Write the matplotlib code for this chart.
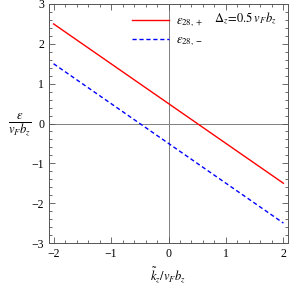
import matplotlib.pyplot as plt
import numpy as np
from matplotlib.ticker import MultipleLocator

plt.rcParams['font.family'] = 'Liberation Serif'
plt.rcParams['mathtext.fontset'] = 'stix'

# data: two energy branches, straight lines
k = np.array([-2.0, 2.0])
eps_plus = np.array([2.5, -1.5])
eps_minus = np.array([1.5, -2.5])
xticks = [-2, -1, 0, 1, 2]
yticks = [-3, -2, -1, 0, 1, 2, 3]

fig = plt.figure(figsize=(2.91, 2.85), dpi=100)
ax = fig.add_axes([49/291, 1-243/285, 239/291, 239/285])

ax.axhline(0, color='gray', lw=0.7, zorder=1)
ax.axvline(0, color='gray', lw=0.7, zorder=1)
ax.plot(k, eps_plus, color='red', lw=1.0, label=r'$\varepsilon_{28,+}$')
ax.plot(k, eps_minus, color='blue', lw=1.0, ls=(0, (3, 2)), label=r'$\varepsilon_{28,-}$')

ax.set_xlim(-2.08, 2.08)
ax.set_ylim(-3, 3)
ax.set_xticks(xticks)
ax.set_yticks(yticks)
ax.set_xticklabels([str(t).replace('-', '\u2212') for t in xticks])
ax.set_yticklabels([str(t).replace('-', '\u2212') for t in yticks])
ax.xaxis.set_minor_locator(MultipleLocator(0.2))
ax.yaxis.set_minor_locator(MultipleLocator(0.2))
ax.tick_params(which='both', direction='in', top=True, right=True, labelsize=8.5, width=0.6, color='#555555')
ax.tick_params(which='major', length=4)
ax.tick_params(which='minor', length=2)
for s in ax.spines.values():
    s.set_color('#555555')
    s.set_linewidth(0.7)

ax.legend(loc='upper left', bbox_to_anchor=(0.30, 1.0), frameon=False, fontsize=9,
          handlelength=3.0, handletextpad=0.5, labelspacing=0.4)
ax.text(0.69, 0.925, r'$\Delta_z\!=\!0.5\,v_F b_z$', transform=ax.transAxes, fontsize=9)

ax.set_xlabel(r'$\tilde{k}_z/v_F b_z$', fontsize=9, labelpad=4)
fig.text(20/291, 1-125/285, r'$\frac{\varepsilon}{v_F b_z}$', fontsize=13, ha='center', va='center')

fig.savefig('out.png', dpi=100)
